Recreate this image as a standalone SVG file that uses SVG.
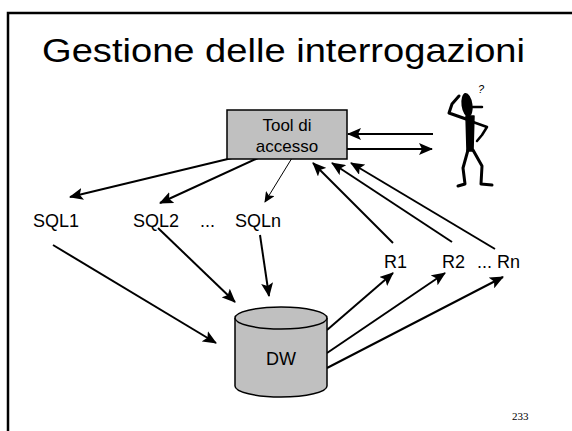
<svg xmlns="http://www.w3.org/2000/svg" width="572" height="431" viewBox="0 0 572 431">
  <style>
    .lbl { font-family: "Liberation Sans", "DejaVu Sans", sans-serif; fill: #000; }
    .edge { stroke: #000; stroke-width: 2; fill: none; }
    .edge-thin { stroke: #000; stroke-width: 1; fill: none; }
    .shape { fill: #c0c0c0; stroke: #000; stroke-width: 1.5; }
  </style>
  <defs>
    <marker id="arrow" markerWidth="14" markerHeight="12" refX="13" refY="6" orient="auto" markerUnits="userSpaceOnUse">
      <path d="M0,0 L14,6 L0,12 L3,6 Z" fill="#000"/>
    </marker>
    <marker id="arrow-small" markerWidth="11" markerHeight="10" refX="10" refY="5" orient="auto" markerUnits="userSpaceOnUse">
      <path d="M0,0 L11,5 L0,10 L2.5,5 Z" fill="#000"/>
    </marker>
  </defs>

  <rect width="572" height="431" fill="#fff"/>
  <!-- slide frame -->
  <path d="M8,431 V13 H572" fill="none" stroke="#000" stroke-width="2.5"/>

  <text class="lbl" x="42" y="62" font-size="34" textLength="483" lengthAdjust="spacingAndGlyphs">Gestione delle interrogazioni</text>

  <g id="connectors">
    <!-- user <-> tool -->
    <line class="edge" x1="433" y1="134" x2="348" y2="134" marker-end="url(#arrow)"/>
    <line class="edge" x1="346" y1="149" x2="432" y2="149" marker-end="url(#arrow)"/>
    <!-- tool -> queries -->
    <line class="edge" x1="232" y1="158" x2="70" y2="197" marker-end="url(#arrow)"/>
    <line class="edge" x1="258" y1="158" x2="160" y2="203" marker-end="url(#arrow)"/>
    <line class="edge-thin" x1="292" y1="158" x2="265" y2="202" marker-end="url(#arrow-small)"/>
    <!-- queries -> DW -->
    <line class="edge" x1="53" y1="245" x2="216" y2="343" marker-end="url(#arrow)"/>
    <line class="edge" x1="158" y1="228" x2="235" y2="302" marker-end="url(#arrow)"/>
    <line class="edge" x1="260" y1="235" x2="269" y2="296" marker-end="url(#arrow)"/>
    <!-- DW -> results -->
    <line class="edge" x1="327" y1="330" x2="393" y2="273" marker-end="url(#arrow)"/>
    <line class="edge" x1="327" y1="353" x2="445" y2="273" marker-end="url(#arrow)"/>
    <line class="edge" x1="327" y1="368" x2="503" y2="277" marker-end="url(#arrow)"/>
    <!-- results -> tool -->
    <line class="edge" x1="393" y1="243" x2="313" y2="163" marker-end="url(#arrow)"/>
    <line class="edge" x1="452" y1="242" x2="332" y2="163" marker-end="url(#arrow)"/>
    <line class="edge" x1="495" y1="249" x2="351" y2="163" marker-end="url(#arrow)"/>
  </g>

  <g id="tool">
    <rect class="shape" x="227" y="110" width="120" height="49"/>
    <text class="lbl" x="287" y="131" font-size="17" text-anchor="middle">Tool di</text>
    <text class="lbl" x="287" y="152" font-size="17" text-anchor="middle">accesso</text>
  </g>

  <g id="user">
    <text class="lbl" x="478" y="93" font-size="11" font-style="italic">?</text>
    <ellipse cx="467" cy="105" rx="5.5" ry="12" fill="#000" transform="rotate(-8 467 105)"/>
    <line x1="470" y1="107" x2="482" y2="107" stroke="#000" stroke-width="2.5" stroke-linecap="round"/>
    <!-- raised arm -->
    <path d="M466,119 L449,113 L452,104 L459,96" fill="none" stroke="#000" stroke-width="3" stroke-linecap="round" stroke-linejoin="round"/>
    <!-- torso -->
    <path d="M466,116 L474,116 L473,151 L467,151 Z" fill="#000" stroke="#000" stroke-width="1.5" stroke-linejoin="round"/>
    <!-- hand on hip -->
    <path d="M473,122 L487,127 L482,135 L477,141" fill="none" stroke="#000" stroke-width="2.5" stroke-linecap="round" stroke-linejoin="round"/>
    <!-- legs -->
    <path d="M468,150 L463,168 L465,184 L458,186" fill="none" stroke="#000" stroke-width="3" stroke-linecap="round" stroke-linejoin="round"/>
    <path d="M473,150 L482,166 L481,184 L492,185" fill="none" stroke="#000" stroke-width="3" stroke-linecap="round" stroke-linejoin="round"/>
  </g>

  <g id="sql1"><text class="lbl" x="33" y="227" font-size="18">SQL1</text></g>
  <g id="sql2"><text class="lbl" x="133" y="227" font-size="18">SQL2</text></g>
  <g id="dots-sql"><text class="lbl" x="200" y="227" font-size="18">...</text></g>
  <g id="sqln"><text class="lbl" x="235" y="227" font-size="18">SQLn</text></g>

  <g id="dw">
    <path class="shape" d="M235,318 V386 A46,11 0 0 0 327,386 V318"/>
    <ellipse class="shape" cx="281" cy="318" rx="46" ry="11"/>
    <text class="lbl" x="281" y="365" font-size="18" text-anchor="middle">DW</text>
  </g>

  <g id="r1"><text class="lbl" x="384" y="268" font-size="18">R1</text></g>
  <g id="r2"><text class="lbl" x="442" y="268" font-size="18">R2</text></g>
  <g id="rn"><text class="lbl" x="477" y="268" font-size="18">... Rn</text></g>

  <text x="512" y="420" font-family="Liberation Serif, serif" font-size="11" fill="#000">233</text>
</svg>
